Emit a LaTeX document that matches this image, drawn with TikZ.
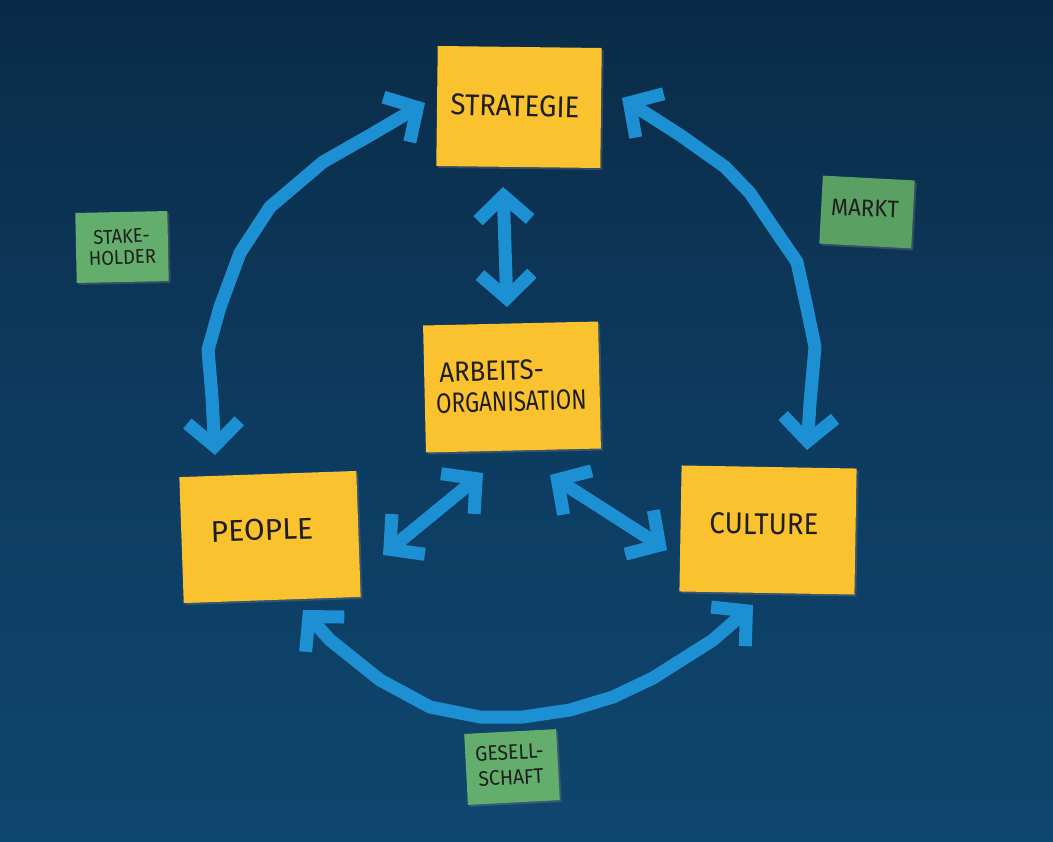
\documentclass[tikz,border=0pt]{standalone}
\usepackage{fontspec}
\newfontfamily\hand[FakeStretch=0.92]{Fira Sans}
\newfontfamily\handw{Fira Sans}
\newfontfamily\handn[FakeStretch=0.8]{Fira Sans}
\usetikzlibrary{arrows.meta,shadows}
\definecolor{bgtop}{HTML}{0A2B47}
\definecolor{bgmid}{HTML}{0D3B60}
\definecolor{bgbot}{HTML}{0F466F}
\definecolor{tapeblue}{HTML}{1C90D2}
\definecolor{noteyellow}{HTML}{FAC22F}
\definecolor{notegreen}{HTML}{63AE6C}
\definecolor{ink}{HTML}{1E1E1E}
\tikzset{
  note/.style={draw=none, inner sep=0pt,
    drop shadow={shadow xshift=2pt, shadow yshift=-2pt, opacity=0.35}},
  bignote/.style={note, fill=noteyellow},
  smallnote/.style={note, fill=notegreen, minimum width=92, minimum height=70},
  bigtext/.style={inner sep=0pt, text=ink, align=center, font=\hand\fontsize{30}{31}\selectfont},
  smalltext/.style={inner sep=0pt, text=ink, align=center, font=\hand\fontsize{20}{21}\selectfont},
  tape/.style={draw=tapeblue, line width=13pt, line join=round,
    arrows={Straight Barb[length=24pt,width=52pt]-Straight Barb[length=24pt,width=52pt]}}
}
\begin{document}
\begin{tikzpicture}[x=1pt,y=-1pt]
\useasboundingbox (0,0) rectangle (1053,842);
\fill[top color=bgtop, bottom color=bgbot, middle color=bgmid] (0,0) rectangle (1053,842);

% notes
\node[bignote, minimum width=164, minimum height=120, rotate=-0.7] (strat) at (519,107) {};
\node[bignote, minimum width=175, minimum height=127, rotate=1.3] (arbeit) at (512,387) {};
\node[bignote, minimum width=177, minimum height=126, rotate=2] (people) at (270,537) {};
\node[bignote, minimum width=175, minimum height=126, rotate=-1] (culture) at (768,530) {};
\node[smallnote, rotate=1.2] (stake) at (122,247) {};
\node[smallnote, minimum height=68, rotate=-3, fill=notegreen!92!black] (markt) at (867,212) {};
\node[smallnote, minimum height=71, rotate=3] (gesell) at (512,767) {};

% texts on the notes
\node[bigtext, rotate=-1.5] (strattext) at (515,106) {STRATEGIE};
\node[bigtext, align=left, rotate=1.5, font=\handn\fontsize{28}{31}\selectfont] (arbeittext) at (511,386) {\hspace*{4pt}{\hand ARBEITS-}\\ORGANISATION};
\node[bigtext, rotate=2, font=\handw\fontsize{30}{31}\selectfont] (peopletext) at (262,530) {PEOPLE};
\node[bigtext, rotate=-0.5] (culturetext) at (764,524) {CULTURE};
\node[smalltext, rotate=2] (staketext) at (122,247) {STAKE-\\HOLDER};
\node[smalltext, rotate=-2, font=\hand\fontsize{24}{25}\selectfont] (markttext) at (865,208) {MARKT};
\node[smalltext, rotate=3, align=left, font=\hand\fontsize{21}{25}\selectfont] (gesselltext) at (510,765) {GESELL-\\\hspace*{2pt}SCHAFT};

% arrow end points
\coordinate (lt) at (425,103);
\coordinate (lb) at (215,455);
\coordinate (rt) at (622,98);
\coordinate (rb) at (807,450);
\coordinate (bl) at (303,610);
\coordinate (br) at (753,605);
\coordinate (ct) at (503,187);
\coordinate (cb) at (507,307);
\coordinate (dlt) at (483,473);
\coordinate (dlb) at (383,555);
\coordinate (drt) at (550,475);
\coordinate (drb) at (667,550);

% tape arrows
\draw[tape] (lt) -- (367,137) -- (323,162) -- (270,207) -- (240,253) -- (220,307) -- (208,350) -- (212,397) -- (lb);
\draw[tape] (rt) -- (680,135) -- (725,167) -- (750,193) -- (775,230) -- (797,262) -- (808,313) -- (815,347) -- (810,403) -- (rb);
\draw[tape] (bl) -- (330,640) -- (380,680) -- (430,707) -- (480,717) -- (523,717) -- (570,710) -- (613,697) -- (653,678) -- (713,640) -- (br);
\draw[tape] (ct) -- (cb);
\draw[tape] (dlt) -- (dlb);
\draw[tape] (drt) -- (drb);
\end{tikzpicture}
\end{document}
